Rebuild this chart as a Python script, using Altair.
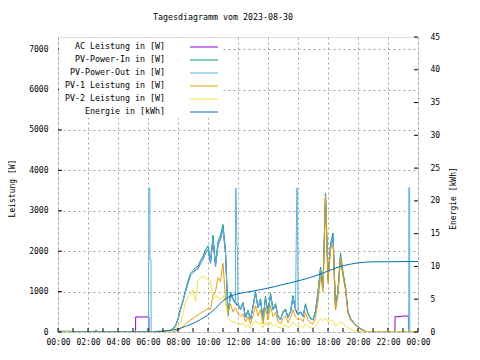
import altair as alt
import pandas as pd

FONT = "DejaVu Sans Mono"
TITLE = "Tagesdiagramm vom 2023-08-30"
SERIES = ["AC Leistung in [W]", "PV-Power-In in [W]", "PV-Power-Out in [W]",
          "PV-1 Leistung in [W]", "PV-2 Leistung in [W]", "Energie in [kWh]"]
COLORS = ["#9400d3", "#009e73", "#56b4e9", "#e69f00", "#f0e442", "#0072b2"]

X_TICKS = [0, 2, 4, 6, 8, 10, 12, 14, 16, 18, 20, 22, 24]
HOUR_TICKS = list(range(25))
W_TICKS = [0, 1000, 2000, 3000, 4000, 5000, 6000, 7000]
KWH_TICKS = [0, 5, 10, 15, 20, 25, 30, 35, 40, 45]
W_MAX = 7300
KWH_MAX = 45

# 10-minute daytime grid, 07:30 ... 21:00 (hours)
DAY_HOURS = [m / 60 for m in range(450, 1261, 10)]

OUT_DAY = [40, 80, 150,
           320, 560, 760, 1000, 1210, 1400,
           1460, 1540, 1560, 1700, 1800, 1960,
           2050, 1700, 2300, 1620, 2150, 2300,
           2560, 1950, 400, 950, 800, 700,
           650, 560, 700, 350, 520, 300,
           620, 960, 600, 790, 300, 850,
           450, 920, 550, 670, 380, 300,
           480, 550, 350, 500, 850, 550,
           420, 480, 380, 670, 450, 330,
           300, 500, 960, 1550, 1100, 3380,
           1300, 2100, 2360, 600, 1000, 1880,
           1420, 1080, 480, 330, 250, 170,
           130, 80, 50, 20, 0, 0,
           0]
IN_DAY = [45, 85, 160,
          330, 580, 790, 1040, 1260, 1450,
          1520, 1600, 1620, 1770, 1870, 2040,
          2130, 1770, 2390, 1690, 2240, 2390,
          2660, 2030, 420, 990, 830, 730,
          680, 580, 730, 370, 540, 310,
          650, 1000, 620, 820, 310, 890,
          470, 960, 570, 700, 400, 310,
          500, 570, 360, 520, 900, 570,
          440, 500, 400, 700, 470, 340,
          310, 520, 1000, 1610, 1150, 3430,
          1350, 2180, 2450, 620, 1040, 1950,
          1480, 1120, 500, 340, 260, 180,
          135, 85, 52, 20, 0, 0,
          0]
PV1_DAY = [0, 0, 20,
           40, 80, 140, 200, 250, 300,
           330, 380, 420, 460, 500, 540,
           580, 560, 900, 1000, 1350, 1250,
           1700, 800, 500, 700, 500, 600,
           450, 380, 450, 250, 380, 200,
           400, 650, 400, 550, 200, 600,
           300, 650, 380, 480, 250, 200,
           330, 400, 230, 350, 550, 380,
           300, 330, 250, 480, 300, 220,
           200, 350, 750, 1370, 1000, 3360,
           1200, 2050, 2160, 545, 900, 1830,
           1370, 1040, 460, 300, 230, 160,
           120, 70, 40, 15, 0, 0,
           0]
PV2_DAY = [30, 60, 100,
           150, 200, 450, 750, 870, 920,
           1040, 750, 1290, 1350, 1370, 1350,
           1300, 1250, 800, 880, 850, 800,
           900, 750, 350, 280, 250, 250,
           200, 180, 220, 120, 180, 100,
           200, 280, 180, 230, 100, 250,
           150, 250, 150, 200, 120, 100,
           150, 180, 100, 150, 250, 180,
           130, 150, 110, 200, 130, 100,
           100, 150, 250, 330, 280, 350,
           250, 300, 280, 150, 200, 250,
           200, 170, 100, 70, 50, 30,
           20, 10, 5, 0, 0, 0,
           0]

# PV-Power-Out outside the grid: night values and narrow spikes
OUT_EXTRA_T = [0, 0.8, 0.81, 6.04, 6.05, 6.12, 6.13, 6.2, 6.21, 7.3,
               11.84, 11.87, 11.93, 11.96,
               15.92, 15.95, 15.96, 15.99,
               23.38, 23.39, 23.44, 23.45, 24]
OUT_EXTRA_V = [25, 25, 0, 0, 3560, 3560, 1790, 1790, 0, 0,
               3560, 3560, 2120, 2120,
               3560, 3560, 2160, 2160,
               0, 3570, 3570, 0, 0]

# AC Leistung at night (steps)
AC_NIGHT_T = [0, 2.45, 2.46, 2.6, 2.61, 5.17, 5.18, 6.06, 6.07, 7.3,
              21.1, 22.46, 22.47, 22.9, 22.91, 23.36, 23.37, 24]
AC_NIGHT_V = [0, 0, 30, 30, 0, 0, 372, 372, 0, 0,
              0, 0, 380, 380, 395, 395, 0, 0]

E_T = [0.8, 6.45, 6.5, 7.0, 7.5, 8.0, 8.5, 9.0, 9.5, 10.0, 10.5, 11.0, 11.5,
       12.0, 12.5, 13.0, 13.5, 14.0, 14.5, 15.0, 15.5, 16.0, 16.5, 17.0, 17.5,
       18.0, 18.5, 19.0, 19.5, 20.0, 20.5, 21.0, 22.0, 24.0]
E_V = [0, 0, 0.1, 0.15, 0.25, 0.45, 0.85, 1.3, 1.9, 2.6, 3.6, 4.8, 5.5,
       5.85, 6.05, 6.25, 6.45, 6.7, 6.95, 7.25, 7.5, 7.8, 8.1, 8.45, 8.85,
       9.3, 9.75, 10.1, 10.35, 10.55, 10.65, 10.7, 10.72, 10.75]


def frame(t, v):
    return pd.DataFrame({"h": t, "v": v})


df_ac = frame(AC_NIGHT_T + DAY_HOURS, AC_NIGHT_V + OUT_DAY)
df_in = frame([0, 7.3] + DAY_HOURS + [24], [0, 0] + IN_DAY + [0])
df_out = frame(OUT_EXTRA_T + DAY_HOURS, OUT_EXTRA_V + OUT_DAY)
df_pv1 = frame([0, 7.3] + DAY_HOURS + [24], [0, 0] + PV1_DAY + [0])
df_pv2 = frame([0, 7.3] + DAY_HOURS + [24], [0, 0] + PV2_DAY + [0])
df_e = frame(E_T, E_V)

GRID = dict(grid=True, gridDash=[2, 3], gridColor="#a0a0a0", gridWidth=1)
TXT = dict(labelFont=FONT, labelFontSize=8, labelColor="black",
           titleFont=FONT, titleFontSize=8, titleFontWeight="normal",
           titleColor="black")

X = alt.X("h:Q", scale=alt.Scale(domain=[0, 24], nice=False, zero=False),
          axis=alt.Axis(values=X_TICKS, title=None, ticks=False, domain=False,
                        labelPadding=6, labelFlush=False,
                        labelExpr="(datum.value % 24 < 10 ? '0' : '') + (datum.value % 24) + ':00'",
                        labelOverlap=False, **GRID, **TXT))

W_SCALE = alt.Scale(domain=[0, W_MAX], nice=False, zero=True)
E_SCALE = alt.Scale(domain=[0, KWH_MAX], nice=False, zero=True)

LEFT_AXIS = alt.Axis(values=W_TICKS, format="d", ticks=False, domain=False,
                     labelPadding=10, labelFlush=False,
                     title="Leistung [W]", titleX=-46, titleY=151, titleAngle=270,
                     titleBaseline="middle", titleAlign="center", **GRID, **TXT)
RIGHT_AXIS = alt.Axis(orient="right", values=KWH_TICKS, format="d", ticks=False,
                      domain=False, grid=False, labelPadding=12, labelFlush=False,
                      title="Energie [kWh]", titleX=35, titleY=161, titleAngle=270,
                      titleBaseline="middle", titleAlign="center", **TXT)


def line(df, color, scale, axis):
    return alt.Chart(df).mark_line(color=color, strokeWidth=1, clip=True).encode(
        x=X, y=alt.Y("v:Q", scale=scale, axis=axis))


layers = [
    line(df_ac, COLORS[0], W_SCALE, LEFT_AXIS),
    line(df_in, COLORS[1], W_SCALE, None),
    line(df_out, COLORS[2], W_SCALE, None),
    line(df_pv1, COLORS[3], W_SCALE, None),
    line(df_pv2, COLORS[4], W_SCALE, None),
    line(df_e, COLORS[5], E_SCALE, RIGHT_AXIS),
]

# inward ticks (gnuplot style)
layers.append(alt.Chart(pd.DataFrame({"h": HOUR_TICKS})).mark_rule(color="black").encode(
    x=X, y=alt.value(295), y2=alt.value(291)))
layers.append(alt.Chart(pd.DataFrame({"v": W_TICKS})).mark_rule(color="black").encode(
    y=alt.Y("v:Q", scale=W_SCALE, axis=None), x=alt.value(0), x2=alt.value(4)))
layers.append(alt.Chart(pd.DataFrame({"v": KWH_TICKS})).mark_rule(color="black").encode(
    y=alt.Y("v:Q", scale=E_SCALE, axis=None), x=alt.value(356), x2=alt.value(360)))

# legend (key box)
LEG = pd.DataFrame({"label": SERIES, "color": COLORS, "row": list(range(6))})
LEG_Y = alt.Y("row:Q", scale=alt.Scale(domain=[0, 5], range=[10, 75]), axis=None)
layers.append(alt.Chart(pd.DataFrame({"a": [0]})).mark_rect(color="white").encode(
    x=alt.value(1), x2=alt.value(164), y=alt.value(1), y2=alt.value(81)))
layers.append(alt.Chart(LEG).mark_text(align="right", baseline="middle", font=FONT,
                                       fontSize=8.3, color="black").encode(
    x=alt.value(107), y=LEG_Y, text="label:N"))
layers.append(alt.Chart(LEG).mark_rule(strokeWidth=1).encode(
    x=alt.value(132), x2=alt.value(160), y=LEG_Y, color=alt.Color("color:N", scale=None)))

# chart title (as text, centred like gnuplot)
layers.append(alt.Chart(pd.DataFrame({"t": [TITLE]})).mark_text(
    align="center", baseline="middle", font=FONT, fontSize=8.3, color="black").encode(
    x=alt.value(165), y=alt.value(-19), text="t:N"))

chart = alt.layer(*layers).resolve_scale(y="independent").properties(
    width=360, height=295,
    autosize=alt.AutoSizeParams(type="none"),
    padding={"left": 50, "top": 29, "right": 54, "bottom": 20},
).configure_view(stroke="black", strokeWidth=1).configure(background="white")

chart.save("out.html", embed_options={"renderer": "svg", "actions": False})
